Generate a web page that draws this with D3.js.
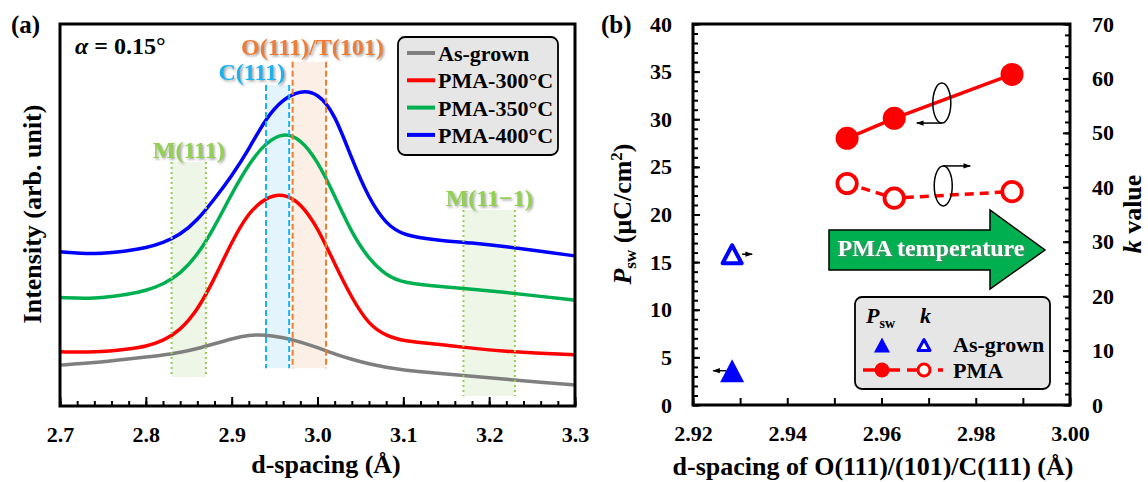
<!DOCTYPE html>
<html>
<head>
<meta charset="utf-8">
<script src="https://d3js.org/d3.v7.min.js"></script>
<style>
body { margin: 0; background: #fff; }
svg text { font-family: "Liberation Serif", "Times New Roman", serif; font-weight: bold; fill: #000; }
</style>
</head>
<body>
<div id="chart"></div>
<script>
// ---- panel (a): GIXRD spectra, intensity (arb.) at each d-spacing (A)
var dSpacing = [2.70, 2.74, 2.78, 2.80, 2.82, 2.84, 2.86, 2.88, 2.90, 2.92, 2.94, 2.96, 2.98, 3.00, 3.02, 3.04, 3.06, 3.08, 3.10, 3.14, 3.18, 3.22, 3.26, 3.30];
var asGrown = [10.7, 11.3, 12.3, 12.8, 13.3, 14.0, 15.0, 16.3, 17.6, 18.6, 18.7, 17.9, 16.8, 15.3, 13.6, 12.2, 11.0, 10.1, 9.4, 8.6, 7.8, 7.0, 6.2, 5.5];
var pma300 = [14.2, 14.0, 14.9, 15.6, 17.0, 19.8, 25.0, 33.3, 43.0, 50.8, 54.6, 55.7, 53.2, 46.8, 37.2, 28.2, 21.2, 18.4, 17.0, 16.2, 15.1, 14.3, 13.8, 13.4];
var pma350 = [28.4, 28.0, 29.2, 30.2, 31.8, 34.6, 39.4, 46.8, 55.6, 63.4, 69.0, 71.6, 70.0, 64.2, 55.0, 45.2, 38.4, 34.2, 32.2, 31.3, 30.6, 29.7, 28.7, 27.7];
var pma400 = [40.4, 39.6, 40.6, 41.4, 42.7, 44.8, 48.6, 54.2, 60.2, 67.2, 75.4, 80.4, 82.6, 82.0, 76.6, 64.6, 54.2, 47.6, 44.6, 43.4, 42.7, 41.7, 40.5, 39.3];
var seriesNames = ["As-grown", "PMA-300\u00B0C", "PMA-350\u00B0C", "PMA-400\u00B0C"];
var seriesData = [asGrown, pma300, pma350, pma400];
var seriesColors = ["#7f7f7f", "#ff0000", "#00b050", "#0000ff"];
var xTicksA = [2.7, 2.8, 2.9, 3.0, 3.1, 3.2, 3.3];

// reference phase bands: d range and vertical extent (intensity units)
var bandNames = ["M(111)", "C(111)", "O(111)/T(101)", "M(11\u22121)"];
var bandRanges = [[2.83, 2.87], [2.94, 2.967], [2.971, 3.01], [3.17, 3.23]];
var bandHeights = [[7.6, 63.9], [9.9, 84.0], [9.9, 90.1], [2.6, 51.3]];
var bandColors = ["#92d050", "#1ab2ee", "#ed7d31", "#92d050"];
var bandFills = ["#eef6e7", "#e4f4fc", "#fcefe5", "#eef6e7"];
var bandDash = ["2,3", "6,3", "6,3", "2,3"];

// ---- panel (b)
var asGrownD = [2.9283], asGrownP = [3.6], asGrownK = [27.7];
var pmaD = [2.9527, 2.9627, 2.9877];
var pmaP = [28.0, 30.1, 34.7];
var pmaK = [40.7, 38.0, 39.2];
var xTicksB = [2.92, 2.94, 2.96, 2.98, 3.00];
var pTicks = [0, 5, 10, 15, 20, 25, 30, 35, 40];
var kTicks = [0, 10, 20, 30, 40, 50, 60, 70];

var W = 1148, H = 482;
var svg = d3.select("#chart").append("svg").attr("width", W).attr("height", H);
svg.append("rect").attr("width", W).attr("height", H).attr("fill", "#fff");

var defs = svg.append("defs");
var sh = defs.append("filter").attr("id", "shadow").attr("x", "-10%").attr("y", "-30%").attr("width", "130%").attr("height", "160%");
sh.append("feDropShadow").attr("dx", 1.5).attr("dy", 1.5).attr("stdDeviation", 0.8)
  .attr("flood-color", "#777").attr("flood-opacity", 0.7);
defs.append("marker").attr("id", "ah").attr("viewBox", "0 0 10 10").attr("refX", 9).attr("refY", 5)
  .attr("markerWidth", 5).attr("markerHeight", 5).attr("orient", "auto")
  .append("path").attr("d", "M0,1.5 L10,5 L0,8.5 Z").attr("fill", "#000");

function triPath(cx, cy, w, h) {
  return "M" + cx + "," + (cy - h / 2) + "L" + (cx + w / 2) + "," + (cy + h / 2) + "L" + (cx - w / 2) + "," + (cy + h / 2) + "Z";
}

// ================= panel (a) =================
var a = {left: 60, top: 24, width: 515, height: 382};
var xA = d3.scaleLinear().domain([2.7, 3.3]).range([a.left, a.left + a.width]);
var yA = d3.scaleLinear().domain([0, 100]).range([a.top + a.height, a.top]);

// bands
bandNames.forEach(function(n, i) {
  var x0 = xA(bandRanges[i][0]), x1 = xA(bandRanges[i][1]);
  var y0 = yA(bandHeights[i][1]), y1 = yA(bandHeights[i][0]);
  svg.append("rect").attr("x", x0).attr("y", y0).attr("width", x1 - x0).attr("height", y1 - y0)
    .attr("fill", bandFills[i]);
});

// curves
var lineA = d3.line().x(function(d, i) { return xA(dSpacing[i]); }).y(function(d) { return yA(d); })
  .curve(d3.curveBasis);
seriesData.forEach(function(s, i) {
  svg.append("path").datum(s).attr("d", lineA).attr("fill", "none")
    .attr("stroke", seriesColors[i]).attr("stroke-width", 3.5);
});

// band edges and labels
bandNames.forEach(function(n, i) {
  var x0 = xA(bandRanges[i][0]), x1 = xA(bandRanges[i][1]);
  var y0 = yA(bandHeights[i][1]), y1 = yA(bandHeights[i][0]);
  [x0, x1].forEach(function(x) {
    svg.append("line").attr("x1", x).attr("x2", x).attr("y1", y0).attr("y2", y1)
      .attr("stroke", bandColors[i]).attr("stroke-width", 2).attr("stroke-dasharray", bandDash[i]);
  });
  var tx = (x0 + x1) / 2, anchor = "middle", ty = y0 - 4;
  if (i === 1) { tx = x1 - 4; anchor = "end"; ty = y0 - 5; }
  if (i === 2) { tx = (x0 + x1) / 2 + 3; ty = y0 - 7; }
  svg.append("text").attr("x", tx).attr("y", ty).attr("text-anchor", anchor)
    .style("font-size", "24px").style("fill", bandColors[i]).attr("filter", "url(#shadow)").text(n);
});

// axes (a)
svg.append("g").attr("transform", "translate(0," + (a.top + a.height) + ")")
  .call(d3.axisBottom(xA).tickValues(d3.range(0, 31).map(function(k) { return 2.7 + k * 0.02; }))
    .tickSize(-5).tickFormat(""))
  .call(function(g) { g.select(".domain").remove(); g.selectAll("line").attr("stroke-width", 2); });
svg.append("g").attr("transform", "translate(0," + (a.top + a.height) + ")")
  .call(d3.axisBottom(xA).tickValues(xTicksA).tickSize(-9).tickPadding(20).tickFormat(d3.format(".1f")))
  .call(function(g) {
    g.select(".domain").remove();
    g.selectAll("line").attr("stroke-width", 2);
    g.selectAll("text").style("font-size", "22px").style("font-family", "Liberation Serif").style("font-weight", "bold");
  });
svg.append("rect").attr("x", a.left).attr("y", a.top).attr("width", a.width).attr("height", a.height)
  .attr("fill", "none").attr("stroke", "#000").attr("stroke-width", 3);

// legend (a)
svg.append("rect").attr("x", 398).attr("y", 37).attr("width", 160).attr("height", 118).attr("rx", 7)
  .attr("fill", "#e6e6e6").attr("stroke", "#000").attr("stroke-width", 1.8);
seriesNames.forEach(function(n, i) {
  var yy = 53 + i * 27.3;
  svg.append("line").attr("x1", 407).attr("x2", 435).attr("y1", yy).attr("y2", yy)
    .attr("stroke", seriesColors[i]).attr("stroke-width", 4);
  svg.append("text").attr("x", 438).attr("y", yy).attr("dy", "0.36em").style("font-size", "22px").text(n);
});

// titles (a)
svg.append("text").attr("x", 11).attr("y", 33).style("font-size", "25px").text("(a)");
var al = svg.append("text").attr("x", 75).attr("y", 54).style("font-size", "24px");
al.append("tspan").style("font-style", "italic").text("\u03B1");
al.append("tspan").text(" = 0.15\u00B0");
svg.append("text").attr("x", 326).attr("y", 473).attr("text-anchor", "middle").style("font-size", "26px")
  .text("d-spacing (\u00C5)");
svg.append("text").attr("transform", "translate(41,214) rotate(-90)").attr("text-anchor", "middle")
  .style("font-size", "26px").text("Intensity (arb. unit)");

// ================= panel (b) =================
var b = {left: 693, top: 24, width: 377, height: 381};
var xB = d3.scaleLinear().domain([2.92, 3.00]).range([b.left, b.left + b.width]);
var yP = d3.scaleLinear().domain([0, 40]).range([b.top + b.height, b.top]);
var yK = d3.scaleLinear().domain([0, 70]).range([b.top + b.height, b.top]);

function styleAxis(g) {
  g.select(".domain").remove();
  g.selectAll("line").attr("stroke-width", 2);
  g.selectAll("text").style("font-size", "22px").style("font-family", "Liberation Serif").style("font-weight", "bold");
}
// bottom
svg.append("g").attr("transform", "translate(0," + (b.top + b.height) + ")")
  .call(d3.axisBottom(xB).tickValues(d3.range(0, 9).map(function(k) { return 2.92 + k * 0.01; }))
    .tickSize(-7).tickFormat(""))
  .call(styleAxis);
svg.append("g").attr("transform", "translate(0," + (b.top + b.height) + ")")
  .call(d3.axisBottom(xB).tickValues(xTicksB).tickSize(0).tickPadding(20).tickFormat(d3.format(".2f")))
  .call(styleAxis);
// left
svg.append("g").attr("transform", "translate(" + b.left + ",0)")
  .call(d3.axisLeft(yP).tickValues(d3.range(0, 41)).tickSize(-5).tickFormat(""))
  .call(styleAxis);
svg.append("g").attr("transform", "translate(" + b.left + ",0)")
  .call(d3.axisLeft(yP).tickValues(pTicks).tickSize(-7).tickPadding(21))
  .call(styleAxis);
// right
svg.append("g").attr("transform", "translate(" + (b.left + b.width) + ",0)")
  .call(d3.axisRight(yK).tickValues(d3.range(0, 71, 2)).tickSize(-5).tickFormat(""))
  .call(styleAxis);
svg.append("g").attr("transform", "translate(" + (b.left + b.width) + ",0)")
  .call(d3.axisRight(yK).tickValues(kTicks).tickSize(-7).tickPadding(22))
  .call(styleAxis);
svg.append("rect").attr("x", b.left).attr("y", b.top).attr("width", b.width).attr("height", b.height)
  .attr("fill", "none").attr("stroke", "#000").attr("stroke-width", 3);

// green PMA temperature arrow
svg.append("path").attr("d", "M829,230 L990,230 L990,210 L1045,250 L990,289 L990,270 L829,270 Z")
  .attr("fill", "#00b050").attr("stroke", "#000").attr("stroke-width", 1.5);
svg.append("text").attr("x", 931).attr("y", 256).attr("text-anchor", "middle")
  .style("font-size", "24px").style("fill", "#fff").attr("filter", "url(#shadow)").text("PMA temperature");

// PMA lines and markers
var pmaPts = pmaD.map(function(d, i) { return [d, pmaP[i], pmaK[i]]; });
svg.append("path").datum(pmaPts)
  .attr("d", d3.line().x(function(d) { return xB(d[0]); }).y(function(d) { return yP(d[1]); }))
  .attr("fill", "none").attr("stroke", "#ff0000").attr("stroke-width", 3.5);
svg.append("path").datum(pmaPts)
  .attr("d", d3.line().x(function(d) { return xB(d[0]); }).y(function(d) { return yK(d[2]); }))
  .attr("fill", "none").attr("stroke", "#ff0000").attr("stroke-width", 3.5).attr("stroke-dasharray", "9,6");
svg.selectAll(".pmaP").data(pmaPts).enter().append("circle")
  .attr("cx", function(d) { return xB(d[0]); }).attr("cy", function(d) { return yP(d[1]); })
  .attr("r", 11.5).attr("fill", "#ff0000");
svg.selectAll(".pmaK").data(pmaPts).enter().append("circle")
  .attr("cx", function(d) { return xB(d[0]); }).attr("cy", function(d) { return yK(d[2]); })
  .attr("r", 9.7).attr("fill", "#fff").attr("stroke", "#ff0000").attr("stroke-width", 3.8);

// as-grown triangles + direction arrows
asGrownD.forEach(function(d, i) {
  var cx = xB(d), cyP = yP(asGrownP[i]), cyK = yK(asGrownK[i]);
  svg.append("path").attr("d", triPath(cx, cyP, 24, 23)).attr("fill", "#0000ff");
  svg.append("path").attr("d", triPath(cx, cyK, 19, 18)).attr("fill", "#fff")
    .attr("stroke", "#0000ff").attr("stroke-width", 4).attr("stroke-linejoin", "round");
  svg.append("line").attr("x1", cx + 10).attr("x2", cx + 20).attr("y1", cyK).attr("y2", cyK)
    .attr("stroke", "#000").attr("stroke-width", 1.5).attr("marker-end", "url(#ah)");
  svg.append("line").attr("x1", cx - 6).attr("x2", cx - 19).attr("y1", cyP).attr("y2", cyP)
    .attr("stroke", "#000").attr("stroke-width", 1.5).attr("marker-end", "url(#ah)");
});

// axis-pointing rotation arrows
(function() {
  var cx = xB(2.9728), cy = yP(31.7);
  svg.append("ellipse").attr("cx", cx).attr("cy", cy).attr("rx", 9).attr("ry", 20)
    .attr("fill", "none").attr("stroke", "#000").attr("stroke-width", 1.5);
  svg.append("line").attr("x1", cx).attr("x2", cx - 25).attr("y1", cy + 20).attr("y2", cy + 20)
    .attr("stroke", "#000").attr("stroke-width", 1.5).attr("marker-end", "url(#ah)");
  var cx2 = xB(2.9731), cy2 = yP(23.0);
  svg.append("ellipse").attr("cx", cx2).attr("cy", cy2).attr("rx", 9).attr("ry", 20)
    .attr("fill", "none").attr("stroke", "#000").attr("stroke-width", 1.5);
  svg.append("line").attr("x1", cx2).attr("x2", cx2 + 27).attr("y1", cy2 - 20).attr("y2", cy2 - 20)
    .attr("stroke", "#000").attr("stroke-width", 1.5).attr("marker-end", "url(#ah)");
})();

// legend (b)
svg.append("rect").attr("x", 855).attr("y", 297).attr("width", 195).attr("height", 92).attr("rx", 7)
  .attr("fill", "#e6e6e6").attr("stroke", "#000").attr("stroke-width", 1.8);
var lp = svg.append("text").attr("x", 866).attr("y", 323).style("font-size", "22px");
lp.append("tspan").style("font-style", "italic").text("P");
lp.append("tspan").attr("dy", 5).style("font-size", "14px").text("sw");
svg.append("text").attr("x", 920).attr("y", 323).style("font-size", "22px").style("font-style", "italic").text("k");
svg.append("path").attr("d", triPath(882, 345, 16, 15)).attr("fill", "#0000ff");
svg.append("path").attr("d", triPath(924, 345, 12, 11)).attr("fill", "#fff")
  .attr("stroke", "#0000ff").attr("stroke-width", 3).attr("stroke-linejoin", "round");
svg.append("text").attr("x", 953).attr("y", 352).style("font-size", "22px").text("As-grown");
svg.append("line").attr("x1", 863).attr("x2", 900).attr("y1", 370).attr("y2", 370)
  .attr("stroke", "#ff0000").attr("stroke-width", 3.5);
svg.append("circle").attr("cx", 882).attr("cy", 370).attr("r", 7.5).attr("fill", "#ff0000");
svg.append("line").attr("x1", 907).attr("x2", 943).attr("y1", 370).attr("y2", 370)
  .attr("stroke", "#ff0000").attr("stroke-width", 3.5).attr("stroke-dasharray", "11,20,5,10");
svg.append("circle").attr("cx", 924).attr("cy", 370).attr("r", 6).attr("fill", "#fff")
  .attr("stroke", "#ff0000").attr("stroke-width", 3);
svg.append("text").attr("x", 953).attr("y", 378).style("font-size", "22px").text("PMA");

// titles (b)
svg.append("text").attr("x", 601).attr("y", 33).style("font-size", "25px").text("(b)");
svg.append("text").attr("x", 873).attr("y", 475).attr("text-anchor", "middle").style("font-size", "26px")
  .text("d-spacing of O(111)/(101)/C(111) (\u00C5)");
var yl = svg.append("text").attr("transform", "translate(631,214) rotate(-90)").attr("text-anchor", "middle")
  .style("font-size", "26px");
yl.append("tspan").style("font-style", "italic").text("P");
yl.append("tspan").attr("dy", 5).style("font-size", "17px").text("sw");
yl.append("tspan").attr("dy", -5).text(" (\u03BCC/cm");
yl.append("tspan").attr("dy", -9).style("font-size", "17px").text("2");
yl.append("tspan").attr("dy", 9).text(")");
var kl = svg.append("text").attr("transform", "translate(1141,214) rotate(-90)").attr("text-anchor", "middle")
  .style("font-size", "26px");
kl.append("tspan").style("font-style", "italic").text("k");
kl.append("tspan").text(" value");
</script>
</body>
</html>
